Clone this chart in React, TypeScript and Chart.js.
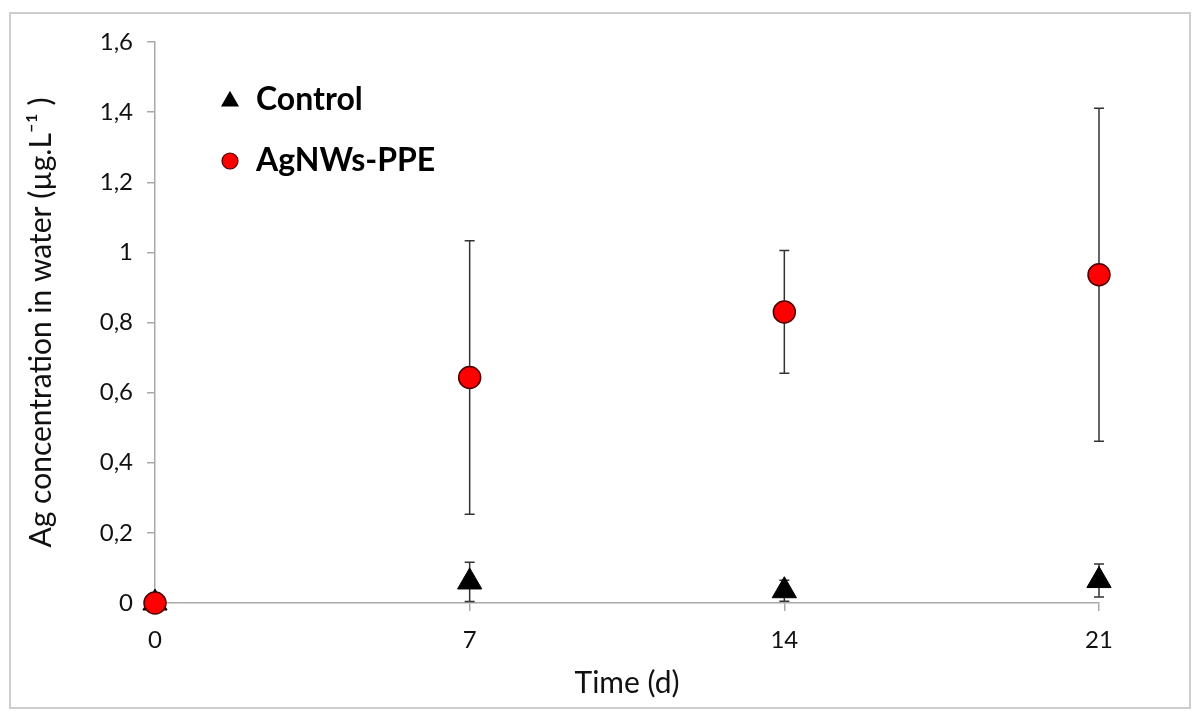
import React, { useEffect, useRef } from "react";
import { Chart, registerables } from "chart.js";

Chart.register(...registerables);

// ---- data ----
const days = [0, 7, 14, 21];
const xTickValues = [0, 7, 14, 21];
const yTickLabels = ["0", "0,2", "0,4", "0,6", "0,8", "1", "1,2", "1,4", "1,6"];
const seriesNames = ["Control", "AgNWs-PPE"];
const controlMean = [0, 0.06, 0.035, 0.064];
const controlErr = [0, 0.056, 0.03, 0.047];
const ppeMean = [0, 0.643, 0.83, 0.936];
const ppeErr = [0, 0.39, 0.175, 0.475];
const xTitle = "Time (d)";
const yTitle = "Ag concentration in water (µg.L⁻¹ )";

const FONT = "Lato, 'Open Sans', sans-serif";

const errorBarPlugin = {
  id: "errorBars",
  beforeDatasetsDraw(chart: any) {
    const { ctx, scales } = chart;
    const xs = scales.x;
    const ys = scales.y;
    chart.data.datasets.forEach((ds: any) => {
      const errs = ds.errorBars;
      if (!errs) return;
      ds.data.forEach((pt: any, j: number) => {
        const e = errs[j];
        if (!e) return;
        const px = xs.getPixelForValue(pt.x);
        const top = ys.getPixelForValue(pt.y + e);
        const bot = ys.getPixelForValue(pt.y - e);
        ctx.save();
        ctx.strokeStyle = "#333333";
        ctx.lineWidth = 1.5;
        ctx.beginPath();
        ctx.moveTo(px, top);
        ctx.lineTo(px, bot);
        ctx.moveTo(px - 5, top);
        ctx.lineTo(px + 5, top);
        ctx.moveTo(px - 5, bot);
        ctx.lineTo(px + 5, bot);
        ctx.stroke();
        ctx.restore();
      });
    });
  },
};

const legendPlugin = {
  id: "insideLegend",
  afterDraw(chart: any) {
    const { ctx, chartArea } = chart;
    const mx = chartArea.left + 75;
    const y0 = chartArea.top + 58;
    const gap = 61;
    chart.data.datasets.forEach((ds: any, i: number) => {
      const cy = y0 + i * gap;
      ctx.save();
      ctx.fillStyle = ds.pointBackgroundColor;
      ctx.strokeStyle = ds.pointBorderColor;
      ctx.lineWidth = 1.2;
      ctx.beginPath();
      if (ds.pointStyle === "triangle") {
        ctx.moveTo(mx, cy - 8);
        ctx.lineTo(mx + 8, cy + 6);
        ctx.lineTo(mx - 8, cy + 6);
        ctx.closePath();
      } else {
        ctx.arc(mx, cy, 8, 0, Math.PI * 2);
      }
      ctx.fill();
      ctx.stroke();
      ctx.fillStyle = "#000";
      ctx.font = `bold 32px ${FONT}`;
      ctx.textBaseline = "middle";
      ctx.textAlign = "left";
      ctx.fillText(ds.label, mx + 26, cy);
      ctx.restore();
    });
  },
};

export default function App() {
  const canvasRef = useRef<HTMLCanvasElement | null>(null);

  useEffect(() => {
    if (!canvasRef.current) return;
    const chart = new Chart(canvasRef.current, {
      type: "scatter",
      data: {
        datasets: [
          {
            label: seriesNames[0],
            data: days.map((d, i) => ({ x: d, y: controlMean[i] })),
            errorBars: controlErr,
            pointStyle: "triangle",
            pointRadius: 14,
            pointHoverRadius: 14,
            pointBackgroundColor: "#000000",
            pointBorderColor: "#000000",
            pointBorderWidth: 1,
            showLine: false,
            clip: false,
            order: 2,
          } as any,
          {
            label: seriesNames[1],
            data: days.map((d, i) => ({ x: d, y: ppeMean[i] })),
            errorBars: ppeErr,
            pointStyle: "circle",
            pointRadius: 11,
            pointHoverRadius: 11,
            pointBackgroundColor: "#ff0000",
            pointBorderColor: "#4a0000",
            pointBorderWidth: 1.5,
            showLine: false,
            clip: false,
            order: 1,
          } as any,
        ],
      },
      options: {
        animation: false,
        responsive: true,
        maintainAspectRatio: false,
        layout: { padding: { left: 0, right: 104, top: 42, bottom: 0 } },
        plugins: {
          legend: { display: false },
          tooltip: { enabled: false },
        },
        scales: {
          x: {
            type: "linear",
            min: 0,
            max: 21,
            afterBuildTicks: (scale: any) => {
              scale.ticks = xTickValues.map((v) => ({ value: v }));
            },
            afterFit: (scale: any) => {
              scale.height = 119;
            },
            grid: {
              drawOnChartArea: false,
              drawTicks: true,
              tickLength: 8,
              color: "#a8a8a8",
              lineWidth: 1.5,
            },
            border: { display: true, color: "#a8a8a8", width: 1.5 },
            ticks: {
              padding: 15,
              color: "#111",
              font: { family: FONT, size: 24 },
              maxRotation: 0,
              callback: (v: any) => String(v),
            },
            title: {
              display: true,
              text: xTitle,
              color: "#111",
              font: { family: FONT, size: 30 },
              padding: { top: 0, bottom: 21 },
            },
          },
          y: {
            type: "linear",
            min: 0,
            max: 1.6,
            ticks: {
              stepSize: 0.2,
              padding: 14,
              color: "#111",
              font: { family: FONT, size: 24 },
              callback: (_v: any, i: number) => yTickLabels[i],
            },
            afterFit: (scale: any) => {
              scale.width = 155;
            },
            grid: {
              drawOnChartArea: false,
              drawTicks: true,
              tickLength: 8,
              color: "#a8a8a8",
              lineWidth: 1.5,
            },
            border: { display: true, color: "#a8a8a8", width: 1.5 },
            title: {
              display: true,
              text: yTitle,
              color: "#111",
              font: { family: FONT, size: 30 },
              padding: { top: 23, bottom: 0 },
            },
          },
        },
      } as any,
      plugins: [errorBarPlugin, legendPlugin],
    });
    return () => chart.destroy();
  }, []);

  return (
    <div
      style={{
        position: "absolute",
        left: 0,
        top: 0,
        width: 1203,
        height: 722,
        background: "#fff",
      }}
    >
      <div
        style={{
          position: "absolute",
          left: 9,
          top: 12,
          width: 1182,
          height: 697,
          border: "2px solid #cdcdcd",
          boxSizing: "border-box",
          pointerEvents: "none",
        }}
      />
      <div style={{ position: "absolute", left: 0, top: 0, width: 1203, height: 722 }}>
        <canvas ref={canvasRef} />
      </div>
    </div>
  );
}
